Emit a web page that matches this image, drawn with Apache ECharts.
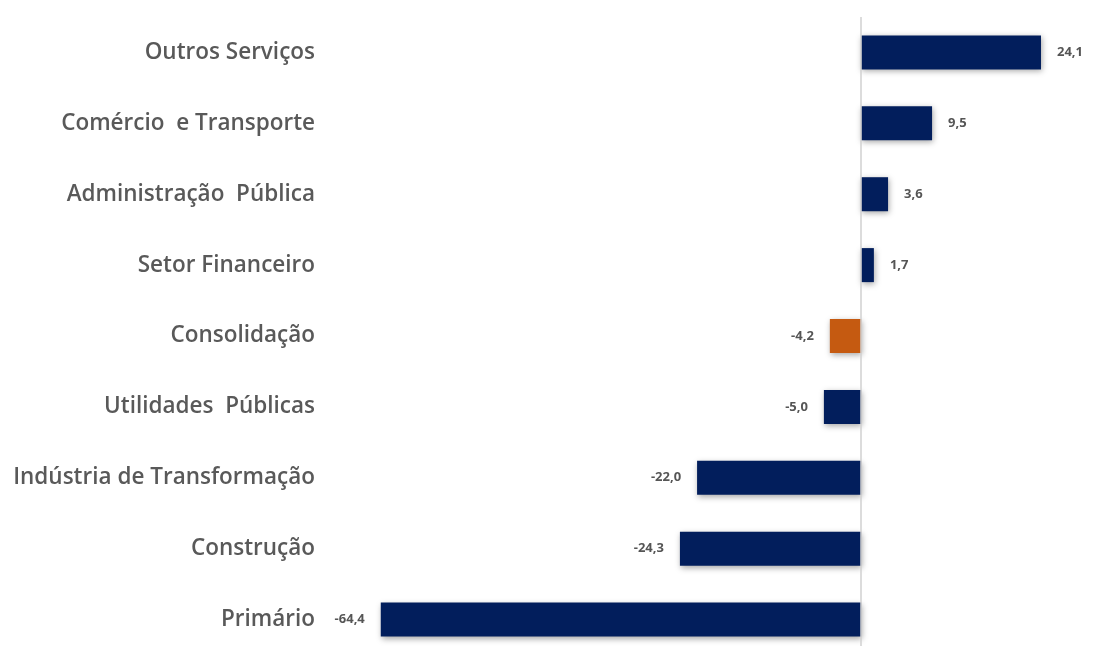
<!DOCTYPE html>
<html>
<head>
<meta charset="utf-8">
<script src="https://cdn.jsdelivr.net/npm/echarts@6/dist/echarts.min.js"></script>
<style>
  html, body { margin: 0; padding: 0; background: #fff; overflow: hidden; }
  #chart { width: 1096px; height: 660px; }
</style>
</head>
<body>
<div id="chart"></div>
<script>
const categories = [
  'Outros Serviços',
  'Comércio  e Transporte',
  'Administração  Pública',
  'Setor Financeiro',
  'Consolidação',
  'Utilidades  Públicas',
  'Indústria de Transformação',
  'Construção',
  'Primário'
]
const values = [24.1, 9.5, 3.6, 1.7, -4.2, -5.0, -22.0, -24.3, -64.4]
const highlight = 'Consolidação'

const navy = '#021E5C'
const orange = '#C55A11'

// the plot runs a little past the bottom of the window, as in the original
const chart = echarts.init(document.getElementById('chart'))

chart.setOption({
  animation: false,
  grid: {
    left: 339,
    width: 746,
    top: 17,
    height: 638,
    containLabel: false
  },
  xAxis: {
    type: 'value',
    min: -70,
    max: 30,
    show: false
  },
  yAxis: {
    type: 'category',
    inverse: true,
    data: categories,
    axisLine: { show: false },
    axisTick: { show: false },
    axisLabel: {
      margin: 24,
      padding: [6, 0, 0, 0],
      color: '#595959',
      fontFamily: 'Open Sans',
      fontWeight: 600,
      fontSize: 22.5
    }
  },
  series: [
    {
      type: 'bar',
      barWidth: '48%',
      data: values.map((v, i) => ({
        value: v,
        itemStyle: { color: categories[i] === highlight ? orange : navy },
        label: { position: v < 0 ? 'left' : 'right' }
      })),
      itemStyle: {
        shadowBlur: 6,
        shadowColor: 'rgba(0,0,0,0.35)',
        shadowOffsetX: 1,
        shadowOffsetY: 2
      },
      label: {
        show: true,
        distance: 16,
        color: '#555',
        fontFamily: 'Open Sans',
        fontWeight: 700,
        fontSize: 13,
        formatter: p => p.value.toFixed(1).replace('.', ',')
      },
      markLine: {
        silent: true,
        symbol: 'none',
        label: { show: false },
        lineStyle: { color: '#d0d0d0', width: 1.5, type: 'solid' },
        data: [{ xAxis: 0 }]
      }
    }
  ]
})
</script>
</body>
</html>
